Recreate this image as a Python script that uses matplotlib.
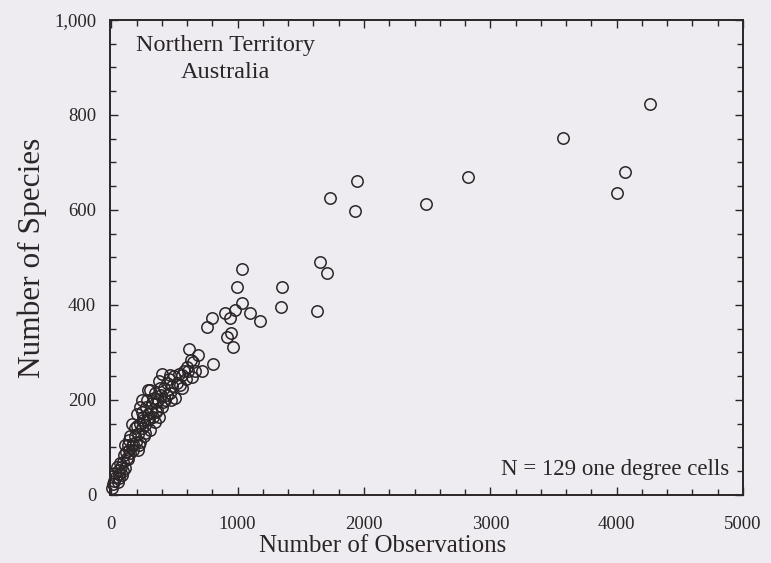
import numpy as np
import matplotlib
matplotlib.use("Agg")
import matplotlib.pyplot as plt
from matplotlib.ticker import MultipleLocator, StrMethodFormatter

# observations per one-degree cell vs number of species
obs_sparse = [4267, 3573, 2823, 4062, 4006, 2492,
              1948, 1932, 1735, 1648, 1711, 1625, 1351, 1341,
              1031, 996, 1038, 978, 899, 1096, 1180, 938, 794, 759, 951, 912, 965,
              617, 628, 802, 715, 597, 636, 544, 465, 439, 557, 347, 426, 360, 347,
              254, 202, 268, 150, 210, 137, 124, 71, 58, 32, 5, 55, 84, 110, 150,
              163, 229, 189, 308, 281, 242, 321, 413, 386, 294, 465]
spp_sparse = [823, 752, 669, 680, 636, 613,
              661, 598, 625, 491, 467, 387, 437, 395,
              475, 437, 404, 389, 382, 382, 366, 372, 372, 353, 340, 332, 312,
              307, 284, 275, 260, 270, 249, 232, 253, 235, 253, 214, 200, 179, 154,
              158, 144, 130, 123, 95, 95, 77, 67, 53, 46, 15, 28, 42, 57, 88,
              102, 112, 123, 137, 158, 175, 193, 196, 225, 221, 215]

# dense cluster near the origin
obs_dense = [15, 25, 40, 48, 65, 78, 95, 100, 118, 130, 142, 175, 185, 195, 215,
             225, 240, 250, 265, 275, 290, 300, 315, 330, 335, 355, 370, 375, 395,
             405, 420, 440, 455, 480, 495, 505, 520, 535, 560, 575, 590, 610, 650,
             665, 690, 160, 105, 200, 230, 285, 260, 90, 60, 135, 310, 400, 470,
             350, 170, 220, 380, 240]
spp_dense = [22, 30, 38, 58, 45, 58, 70, 85, 90, 105, 115, 108, 140, 112, 128,
             150, 140, 165, 148, 185, 170, 160, 175, 165, 205, 195, 200, 240, 210,
             185, 225, 210, 245, 230, 250, 205, 235, 255, 225, 260, 245, 260, 280,
             260, 295, 150, 105, 170, 185, 200, 125, 50, 35, 75, 220, 255, 200,
             175, 95, 105, 165, 200]

x_label = "Number of Observations"
y_label = "Number of Species"
title_text = "Northern Territory\nAustralia"
note_text = "N = 129 one degree cells"

bg = "#eeecf0"
ink = "#2b2528"
serif = ["Liberation Serif", "DejaVu Serif"]

fig = plt.figure(figsize=(7.71, 5.63), dpi=100, facecolor=bg)
ax = fig.add_axes([0.1427, 0.121, 0.821, 0.8435], facecolor=bg)

x = np.array(obs_sparse + obs_dense)
y = np.array(spp_sparse + spp_dense)
ax.plot(x, y, linestyle="none", marker="o", markersize=8.2,
        markerfacecolor="none", markeredgecolor=ink, markeredgewidth=1.1,
        clip_on=False)

ax.set_xlim(-10, 5000)
ax.set_ylim(0, 1000)
ax.xaxis.set_major_locator(MultipleLocator(1000))
ax.xaxis.set_minor_locator(MultipleLocator(200))
ax.yaxis.set_major_locator(MultipleLocator(200))
ax.yaxis.set_minor_locator(MultipleLocator(50))
ax.yaxis.set_major_formatter(StrMethodFormatter("{x:,.0f}"))

ax.tick_params(which="both", direction="in", top=True, right=True,
               color=ink, width=1.0)
ax.tick_params(which="major", length=6)
ax.tick_params(which="minor", length=4)
ax.tick_params(axis="x", which="major", pad=15)
ax.tick_params(axis="y", which="major", pad=10)
for lab in ax.get_xticklabels() + ax.get_yticklabels():
    lab.set_family(serif)
    lab.set_fontsize(13.5)
    lab.set_color(ink)

for sp in ax.spines.values():
    sp.set_color(ink)
    sp.set_linewidth(1.4)

ax.set_xlabel(x_label, family=serif, fontsize=18, color=ink)
ax.set_ylabel(y_label, family=serif, fontsize=22.5, color=ink)
ax.xaxis.set_label_coords(0.431, -0.085)
ax.yaxis.set_label_coords(-0.1, 0.5)

ax.text(0.183, 0.968, title_text, transform=ax.transAxes, ha="center", va="top",
        family=serif, fontsize=17.5, color=ink, linespacing=1.35)
ax.text(0.978, 0.053, note_text, transform=ax.transAxes, ha="right", va="center",
        family=serif, fontsize=16.5, color=ink)

fig.savefig("out.png", dpi=100, facecolor=bg)
